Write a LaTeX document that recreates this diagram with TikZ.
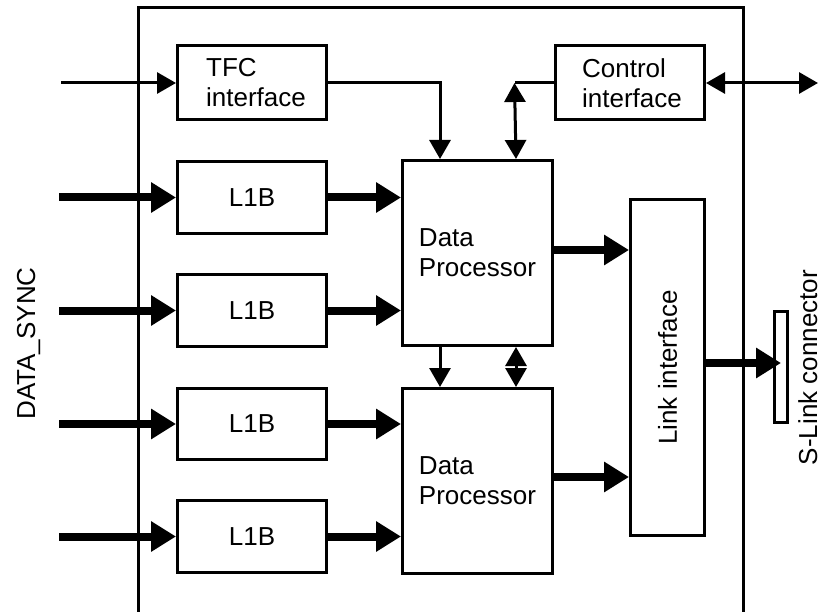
\documentclass[tikz,border=0pt]{standalone}
\usepackage{fontspec}
\setmainfont{Liberation Sans}
\usetikzlibrary{arrows.meta}
\begin{document}
\begin{tikzpicture}[x=1pt,y=-1pt,
  every node/.style={font=\fontsize{26}{30}\selectfont},
  block/.style={draw, line width=3pt, inner sep=0pt, align=left},
  smallbox/.style={block, minimum width=149pt, minimum height=74pt},
  l1bbox/.style={block, minimum width=149pt, minimum height=72pt},
  procbox/.style={block, minimum width=150pt, minimum height=185pt},
  vlabel/.style={rotate=90, inner sep=0pt},
  wire/.style={line width=3pt},
  thinarrow/.style={wire, -{Triangle[length=19pt,width=21pt]}},
  biarrow/.style={wire, {Triangle[length=19pt,width=21pt]}-{Triangle[length=19pt,width=21pt]}},
  bus/.style={line width=8pt, -{Triangle[length=25pt,width=29pt]}},
]
\useasboundingbox[fill=white] (0,0) rectangle (819,612);

% board outline, open at the bottom
\draw[wire] (138,616) -- (138,8) -- (743,8) -- (743,616);

% interface blocks
\node[smallbox] (tfc) at (252,83) {\hspace*{8pt}TFC\\\hspace*{8pt}interface};
\node[smallbox] (ctl) at (630,83) {\hspace*{4pt}Control\\\hspace*{4pt}interface};

% L1B buffers
\node[l1bbox] (l1) at (252,197.5) {L1B};
\node[l1bbox] (l2) at (252,310.5) {L1B};
\node[block, minimum width=149pt, minimum height=71pt] (l3) at (252,424) {L1B};
\node[l1bbox] (l4) at (252,536.5) {L1B};

% data processors
\node[procbox] (dp1) at (477.5,253) {Data\\Processor};
\node[procbox] (dp2) at (477.5,481) {Data\\Processor};

% link interface and S-Link connector
\node[block, minimum width=74pt, minimum height=336pt] (link) at (667.5,367.5) {};
\node[vlabel] (linktext) at (link.center) {Link interface};
\node[block, minimum width=13pt, minimum height=111pt] (sl) at (781,367) {};
\node[vlabel, anchor=base] (sltext) at (817,367.5) {S-Link connector};

\node[vlabel, anchor=base] (datasync) at (35,343.5) {DATA\_SYNC};

% TFC and control connections
\coordinate (tfcin) at (61,83);
\draw[thinarrow] (tfcin) -- (tfc.west);
\draw[thinarrow] (tfc.east) -| ([xshift=-37.5pt]dp1.north);
\draw[wire] (ctl.west) -- ++(-39.5,0) coordinate (ctlj);
\draw[biarrow] (ctlj) -- ([xshift=38.5pt]dp1.north);
\coordinate (ctlout) at (818,83);
\draw[biarrow] (ctl.east) -- (ctlout);

% data inputs
\coordinate (in1) at (59,197.5);
\coordinate (in2) at (59,310.5);
\coordinate (in3) at (59,424);
\coordinate (in4) at (59,536.5);
\draw[bus] (in1) -- (l1.west);
\draw[bus] (in2) -- (l2.west);
\draw[bus] (in3) -- (l3.west);
\draw[bus] (in4) -- (l4.west);

% buffers to processors
\draw[bus] (l1.east) -- (dp1.west |- l1.east);
\draw[bus] (l2.east) -- (dp1.west |- l2.east);
\draw[bus] (l3.east) -- (dp2.west |- l3.east);
\draw[bus] (l4.east) -- (dp2.west |- l4.east);

% between processors
\draw[thinarrow] ([xshift=-37.5pt]dp1.south) -- ([xshift=-37.5pt]dp2.north);
\draw[biarrow] ([xshift=38.5pt]dp1.south) -- ([xshift=38.5pt]dp2.north);

% processors to link interface
\coordinate (dp1o) at ([yshift=3pt]dp1.east);
\coordinate (dp2o) at ([yshift=4pt]dp2.east);
\draw[bus] (dp1o) -- (link.west |- dp1o);
\draw[bus] (dp2o) -- (link.west |- dp2o);

% link interface to connector
\coordinate (lko) at ([yshift=4.5pt]link.east);
\draw[bus] (lko) -- (sl.center |- lko);
\end{tikzpicture}
\end{document}
